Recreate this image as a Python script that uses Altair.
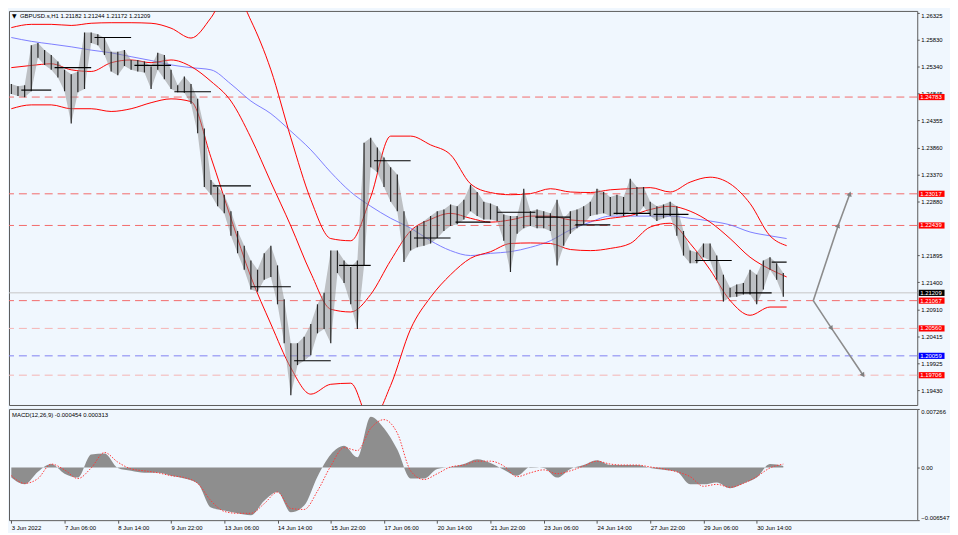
import altair as alt
import pandas as pd

# ---------------- data ----------------
price_step = 4  # one sample every 4 hourly bars
price_hi = [1.2502, 1.2498, 1.2500, 1.2573, 1.2577, 1.2564, 1.2555, 1.2543, 1.2528, 1.2520,
            1.2525, 1.2596, 1.2596, 1.2593, 1.2586, 1.2561, 1.2561, 1.2564, 1.2546, 1.2546,
            1.2543, 1.2534, 1.2559, 1.2555, 1.2528, 1.2500, 1.2516, 1.2502, 1.2475, 1.2421,
            1.2327, 1.2314, 1.2300, 1.2270, 1.2234, 1.2207, 1.2180, 1.2163, 1.2193, 1.2207,
            1.2171, 1.2109, 1.2029, 1.2029, 1.2041, 1.2064, 1.2100, 1.2121, 1.2198, 1.2198,
            1.2180, 1.2168, 1.2180, 1.2395, 1.2404, 1.2386, 1.2368, 1.2350, 1.2337, 1.2270,
            1.2234, 1.2243, 1.2252, 1.2261, 1.2270, 1.2273, 1.2282, 1.2279, 1.2291, 1.2318,
            1.2305, 1.2287, 1.2284, 1.2279, 1.2264, 1.2261, 1.2261, 1.2311, 1.2270, 1.2273,
            1.2270, 1.2266, 1.2291, 1.2257, 1.2270, 1.2273, 1.2279, 1.2287, 1.2311, 1.2305,
            1.2296, 1.2300, 1.2296, 1.2329, 1.2314, 1.2314, 1.2287, 1.2279, 1.2282, 1.2287,
            1.2279, 1.2234, 1.2198, 1.2195, 1.2211, 1.2211, 1.2189, 1.2154, 1.2130, 1.2136,
            1.2139, 1.2163, 1.2154, 1.2180, 1.2186, 1.2175, 1.2157]
price_lo = [1.2484, 1.2480, 1.2478, 1.2489, 1.2550, 1.2537, 1.2528, 1.2514, 1.2489, 1.2430,
            1.2487, 1.2493, 1.2577, 1.2573, 1.2555, 1.2525, 1.2518, 1.2535, 1.2528, 1.2525,
            1.2523, 1.2493, 1.2528, 1.2511, 1.2493, 1.2487, 1.2486, 1.2466, 1.2412, 1.2314,
            1.2300, 1.2279, 1.2266, 1.2225, 1.2193, 1.2163, 1.2127, 1.2123, 1.2145, 1.2150,
            1.2100, 1.2029, 1.1934, 1.1989, 1.1997, 1.2007, 1.2047, 1.2055, 1.2029, 1.2157,
            1.2139, 1.2100, 1.2055, 1.2171, 1.2350, 1.2341, 1.2314, 1.2287, 1.2270, 1.2177,
            1.2198, 1.2204, 1.2207, 1.2211, 1.2221, 1.2234, 1.2243, 1.2246, 1.2255, 1.2270,
            1.2261, 1.2255, 1.2255, 1.2252, 1.2216, 1.2159, 1.2229, 1.2239, 1.2243, 1.2239,
            1.2239, 1.2234, 1.2171, 1.2207, 1.2229, 1.2239, 1.2246, 1.2261, 1.2264, 1.2266,
            1.2261, 1.2264, 1.2261, 1.2270, 1.2261, 1.2279, 1.2261, 1.2252, 1.2257, 1.2261,
            1.2225, 1.2189, 1.2175, 1.2175, 1.2186, 1.2180, 1.2145, 1.2105, 1.2113, 1.2114,
            1.2118, 1.2118, 1.2100, 1.2127, 1.2163, 1.2145, 1.2114]

band_bars = list(range(0, 457, 12)) + [466]
bb_upper = [1.2605, 1.2611, 1.2611, 1.2609, 1.2613, 1.2614, 1.2614, 1.2613, 1.2604, 1.2586,
            1.2623, 1.2680, 1.2618, 1.2528, 1.2404, 1.2291, 1.2220, 1.2216, 1.2296, 1.2407,
            1.2407, 1.2391, 1.2373, 1.2320, 1.2304, 1.2300, 1.2302, 1.2311, 1.2305, 1.2304,
            1.2309, 1.2311, 1.2313, 1.2305, 1.2323, 1.2332, 1.2320, 1.2284, 1.2225, 1.2207]
bb_middle = [1.2532, 1.2536, 1.2539, 1.2528, 1.2525, 1.2541, 1.2546, 1.2541, 1.2546, 1.2534,
             1.2507, 1.2471, 1.2404, 1.2323, 1.2243, 1.2157, 1.2091, 1.2086, 1.2118, 1.2180,
             1.2234, 1.2255, 1.2266, 1.2257, 1.2250, 1.2254, 1.2261, 1.2261, 1.2254, 1.2252,
             1.2257, 1.2262, 1.2273, 1.2279, 1.2270, 1.2250, 1.2220, 1.2186, 1.2164, 1.2150]
bb_lower = [1.2457, 1.2464, 1.2464, 1.2457, 1.2457, 1.2452, 1.2457, 1.2468, 1.2475, 1.2470,
            1.2368, 1.2257, 1.2150, 1.2064, 1.1984, 1.1936, 1.1954, 1.1956, 1.1886, 1.1952,
            1.2055, 1.2113, 1.2154, 1.2184, 1.2196, 1.2211, 1.2212, 1.2211, 1.2200, 1.2198,
            1.2202, 1.2211, 1.2241, 1.2248, 1.2211, 1.2163, 1.2107, 1.2080, 1.2095, 1.2095]
ma_blue = [1.2587, 1.2580, 1.2575, 1.2570, 1.2564, 1.2559, 1.2552, 1.2545, 1.2537, 1.2532,
           1.2528, 1.2502, 1.2471, 1.2448, 1.2416, 1.2382, 1.2341, 1.2305, 1.2279, 1.2257,
           1.2239, 1.2216, 1.2198, 1.2189, 1.2193, 1.2196, 1.2204, 1.2216, 1.2236, 1.2250,
           1.2261, 1.2261, 1.2261, 1.2261, 1.2257, 1.2252, 1.2245, 1.2232, 1.2225, 1.2220]

macd_step = 8
macd_hist = [-0.00126, -0.00210, -0.00054, 0.00042, -0.00078, -0.00126, 0.00162, 0.00174, -0.00006, -0.00042,
             -0.00066, -0.00066, -0.00102, -0.00138, -0.00198, -0.00498, -0.00534, -0.00570, -0.00594, -0.00414,
             -0.00306, -0.00558, -0.00474, -0.00114, 0.00162, 0.00270, 0.00126, 0.00631, 0.00486, 0.00222,
             -0.00138, -0.00138, -0.00018, 0.00006, 0.00042, 0.00102, 0.00054, -0.00030, -0.00102, 0.00006,
             -0.00006, -0.00126, -0.00018, 0.00030, 0.00090, 0.00030, 0.00030, 0.00030, -0.00006, -0.00030,
             -0.00054, -0.00210, -0.00210, -0.00186, -0.00258, -0.00198, -0.00126, 0.00042, 0.00018]
macd_signal = [-0.00102, -0.00198, -0.00138, 0.00042, -0.00030, -0.00138, -0.00006, 0.00186, 0.00066, -0.00018,
               -0.00042, -0.00066, -0.00102, -0.00126, -0.00198, -0.00414, -0.00546, -0.00570, -0.00570, -0.00450,
               -0.00306, -0.00510, -0.00522, -0.00294, 0.00018, 0.00246, 0.00210, 0.00486, 0.00594, 0.00426,
               -0.00042, -0.00150, -0.00078, 0.00006, 0.00030, 0.00078, 0.00078, 0.00018, -0.00114, -0.00066,
               -0.00030, -0.00078, -0.00042, 0.00018, 0.00078, 0.00042, 0.00030, 0.00030, 0.00006, -0.00018,
               -0.00054, -0.00114, -0.00234, -0.00210, -0.00246, -0.00198, -0.00114, -0.00006, 0.00042]

time_labels = ['3 Jun 2022', '7 Jun 06:00', '8 Jun 14:00', '9 Jun 22:00', '13 Jun 06:00',
               '14 Jun 14:00', '15 Jun 22:00', '17 Jun 06:00', '20 Jun 14:00', '21 Jun 22:00',
               '23 Jun 06:00', '24 Jun 14:00', '27 Jun 22:00', '29 Jun 06:00', '30 Jun 14:00']
label_step = 32

price_ticks = [1.26325, 1.25830, 1.25340, 1.24845, 1.24355, 1.23860, 1.23370, 1.22880,
               1.21895, 1.21400, 1.20910, 1.20415, 1.19925, 1.19430]
macd_ticks = [-0.006547, 0.0, 0.007266]

level_values = [1.24783, 1.23017, 1.22439, 1.21067, 1.20560, 1.20059, 1.19706]
level_kind = ['red', 'red', 'red', 'red', 'pink', 'blue', 'pink']
level_box = ['#ff0000', '#ff0000', '#ff0000', '#ff0000', '#ff0000', '#0000ff', '#ff0000']
last_price = 1.21209

pivot_start = [6, 26, 50, 74, 98, 121, 144, 170, 197, 218, 242, 267, 292, 315, 339, 362, 386, 411, 435, 457]
pivot_end = [24, 48, 72, 96, 120, 144, 168, 192, 216, 240, 264, 288, 315, 336, 360, 384, 407, 433, 457, 466]
pivot_level = [1.2491, 1.2532, 1.2587, 1.2536, 1.2488, 1.2316, 1.2132, 1.1997, 1.2171, 1.2362,
               1.2221, 1.2250, 1.2268, 1.2259, 1.2245, 1.2266, 1.2264, 1.2180, 1.2121, 1.2177]

arrow_path = ['up', 'up', 'up', 'down', 'down', 'down']
arrow_order = [0, 1, 2, 0, 1, 2]
arrow_bar = [482, 497, 504, 482, 493, 512]
arrow_price = [1.21067, 1.22439, 1.23017, 1.21067, 1.20560, 1.19706]
arrow_angle = [0, 19, 19, 0, 146, 146]

header_text = 'GBPUSD.s,H1  1.21182 1.21244 1.21172 1.21209'
macd_text = 'MACD(12,26,9) -0.000454 0.000313'

# ---------------- tables ----------------
price_df = pd.DataFrame({'bar': [i * price_step for i in range(len(price_hi))], 'hi': price_hi, 'lo': price_lo})
band_df = pd.DataFrame({'bar': band_bars, 'upper': bb_upper, 'middle': bb_middle, 'lower': bb_lower, 'ma': ma_blue})
macd_df = pd.DataFrame({'bar': [i * macd_step for i in range(len(macd_hist))], 'hist': macd_hist, 'signal': macd_signal})
levels_df = pd.DataFrame({'price': level_values, 'kind': level_kind})
boxes_df = pd.DataFrame({'price': level_values + [last_price],
                         'box': level_box + ['#000000'],
                         'label': [f'{v:.5f}' for v in level_values + [last_price]]})
pivot_df = pd.DataFrame({'start': pivot_start, 'end': pivot_end, 'level': pivot_level})
arrow_df = pd.DataFrame({'path': arrow_path, 'order': arrow_order, 'bar': arrow_bar,
                         'price': arrow_price, 'angle': arrow_angle})
last_df = pd.DataFrame({'price': [last_price]})
header_df = pd.DataFrame({'t': [header_text]})
macd_head_df = pd.DataFrame({'t': [macd_text]})

# ---------------- layout ----------------
W, H1, H2 = 915, 397, 112
FONT = 'Liberation Sans'
BG = '#F0F7FE'

x_scale = alt.Scale(domain=[-1.4, 544.5], nice=False, zero=False)
y_scale = alt.Scale(domain=[1.19162, 1.26355], nice=False, zero=False)
m_scale = alt.Scale(domain=[-0.006547, 0.007266], nice=False, zero=False)

y_axis = alt.Axis(orient='right', values=price_ticks, format='.5f', title=None, grid=False,
                  domain=False, tickSize=2, tickColor='#555555', labelPadding=1.5,
                  labelFontSize=6, labelFont=FONT, labelColor='#000000', labelFlush=4)
m_axis = alt.Axis(orient='right', values=macd_ticks, title=None, grid=False, domain=False,
                  labelExpr="datum.value == 0 ? '0.00' : format(datum.value, '.6f')",
                  tickSize=2, tickColor='#555555', labelPadding=1.5, labelFontSize=6,
                  labelFont=FONT, labelColor='#000000', labelFlush=3)
label_js = '[' + ','.join(f"'{t}'" for t in time_labels) + ']'
x_axis = alt.Axis(values=[i * label_step for i in range(len(time_labels))], title=None, grid=False,
                  domain=False, labelExpr=f'{label_js}[round(datum.value/{label_step})]',
                  tickSize=3, tickColor='#555555', labelAlign='left', labelBaseline='top',
                  labelPadding=1, labelFontSize=6, labelFont=FONT, labelColor='#000000',
                  labelFlush=False, labelOverlap=False)


def XM(f):
    return alt.X(f'{f}:Q', scale=x_scale, axis=None)


def YM(f):
    return alt.Y(f'{f}:Q', scale=y_scale, axis=y_axis)


levels_layer = alt.Chart(levels_df).mark_rule(strokeDash=[8, 5], strokeWidth=1).encode(
    y=YM('price'),
    color=alt.Color('kind:N', scale=alt.Scale(domain=['red', 'pink', 'blue'],
                                              range=['#f26b6b', '#f5b3b3', '#8080f2']), legend=None))
last_layer = alt.Chart(last_df).mark_rule(color='#c6c6c6', strokeWidth=1).encode(y=YM('price'))

band_base = alt.Chart(band_df)
upper_l = band_base.mark_line(color='#ff0000', strokeWidth=1, clip=True, interpolate='monotone').encode(x=XM('bar'), y=YM('upper'))
middle_l = band_base.mark_line(color='#ff0000', strokeWidth=1, clip=True, interpolate='monotone').encode(x=XM('bar'), y=YM('middle'))
lower_l = band_base.mark_line(color='#ff0000', strokeWidth=1, clip=True, interpolate='monotone').encode(x=XM('bar'), y=YM('lower'))
ma_l = band_base.mark_line(color='#7070ff', strokeWidth=0.9, clip=True, interpolate='monotone').encode(x=XM('bar'), y=YM('ma'))

price_area = alt.Chart(price_df).mark_area(color='#8a8a8a', opacity=0.5, clip=True).encode(
    x=XM('bar'), y=YM('lo'), y2='hi')
price_rules = alt.Chart(price_df).mark_rule(color='#262626', strokeWidth=1.2, clip=True).encode(
    x=XM('bar'), y=YM('lo'), y2='hi')

pivots = alt.Chart(pivot_df).mark_rule(color='#000000', strokeWidth=1.2).encode(
    x=XM('start'), x2='end', y=YM('level'))

arrow_lines = alt.Chart(arrow_df).mark_line(color='#8c8c8c', strokeWidth=1.6).encode(
    x=XM('bar'), y=YM('price'), detail='path:N', order='order:Q')
arrow_heads = alt.Chart(arrow_df).transform_filter('datum.order > 0').mark_point(
    shape='triangle-up', filled=True, size=30, color='#808080', opacity=1).encode(
    x=XM('bar'), y=YM('price'), angle=alt.Angle('angle:Q', scale=None))

box_shape = 'M-1,-0.24L1,-0.24L1,0.24L-1,0.24Z'
boxes = alt.Chart(boxes_df).mark_point(shape=box_shape, filled=True, size=676, strokeWidth=0, opacity=1).encode(
    x=alt.value(W + 14.5), y=YM('price'), color=alt.Color('box:N', scale=None))
box_text = alt.Chart(boxes_df).mark_text(align='left', baseline='middle', fontSize=6, font=FONT, color='#ffffff').encode(
    x=alt.value(W + 3), y=YM('price'), text='label:N')

header = alt.Chart(header_df).mark_text(align='left', baseline='middle', fontSize=6, font=FONT, color='#000000').encode(
    x=alt.value(11), y=alt.value(5), text='t:N')
header_tri = alt.Chart(header_df).mark_text(align='left', baseline='middle', fontSize=6, font='DejaVu Sans', color='#000000').encode(
    x=alt.value(3), y=alt.value(5), text=alt.value('\u25bc'))

main = alt.layer(levels_layer, last_layer, ma_l, upper_l, middle_l, lower_l, price_area, price_rules,
                 pivots, arrow_lines, arrow_heads, boxes, box_text, header, header_tri).properties(width=W, height=H1)

XB = alt.X('bar:Q', scale=x_scale, axis=x_axis)
macd_base = alt.Chart(macd_df)
hist = macd_base.mark_area(color='#8e8e8e', interpolate='monotone').encode(
    x=XB, y=alt.Y('hist:Q', scale=m_scale, axis=m_axis), y2=alt.datum(0))
sig = macd_base.mark_line(color='#ff3838', strokeDash=[1.5, 1.5], strokeWidth=1, interpolate='monotone').encode(
    x=XB, y=alt.Y('signal:Q', scale=m_scale, axis=m_axis))
macd_head = alt.Chart(macd_head_df).mark_text(align='left', baseline='middle', fontSize=6, font=FONT, color='#000000').encode(
    x=alt.value(3), y=alt.value(6), text='t:N')

macd = alt.layer(hist, sig, macd_head).properties(width=W, height=H2)

chart = alt.vconcat(main, macd, spacing=2).properties(padding=0).configure(
    background=BG
).configure_view(stroke='#5c5c5c', strokeWidth=1, fill=BG)

chart.save('out.html', embed_options={'renderer': 'svg', 'actions': False})
